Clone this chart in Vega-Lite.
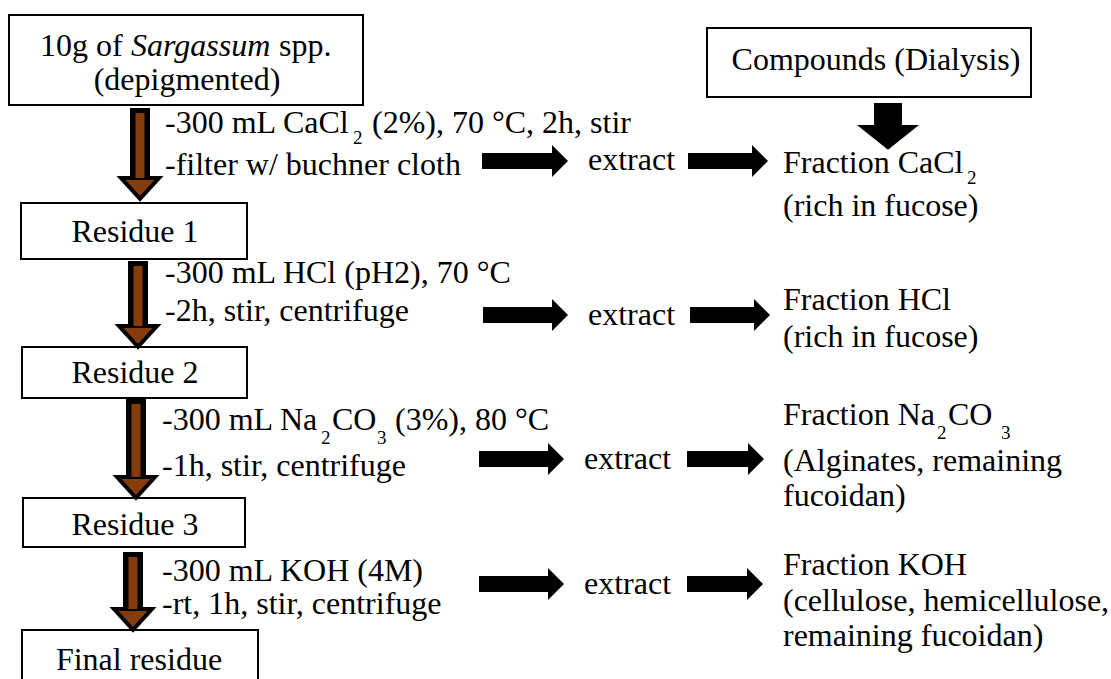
{
  "$schema": "https://vega.github.io/schema/vega-lite/v6.json",
  "width": 1111,
  "height": 679,
  "autosize": {"type": "fit", "contains": "padding"},
  "padding": 0,
  "background": "white",
  "config": {"view": {"stroke": null}},
  "datasets": {
    "boxes": [
      {"x": 9, "x2": 363, "y": 15, "y2": 105},
      {"x": 707, "x2": 1031, "y": 28, "y2": 97},
      {"x": 21, "x2": 247, "y": 203, "y2": 259},
      {"x": 22, "x2": 247, "y": 347, "y2": 398},
      {"x": 23, "x2": 245, "y": 498, "y2": 547},
      {"x": 22, "x2": 258, "y": 630, "y2": 700}
    ],
    "brown": [
      {"cx": 140, "top": 108, "ht": 178},
      {"cx": 138, "top": 261, "ht": 326},
      {"cx": 136, "top": 399, "ht": 477},
      {"cx": 133, "top": 552, "ht": 609}
    ],
    "harrows": [
      {"x1": 482, "xh": 552, "y": 161},
      {"x1": 688, "xh": 752, "y": 161},
      {"x1": 483, "xh": 552, "y": 315},
      {"x1": 690, "xh": 754, "y": 315},
      {"x1": 479, "xh": 548, "y": 459},
      {"x1": 687, "xh": 748, "y": 459},
      {"x1": 479, "xh": 548, "y": 584},
      {"x1": 687, "xh": 747, "y": 584}
    ],
    "varrow": [{"cx": 888, "top": 103, "ht": 125}],
    "textL": [
      {"x": 40, "y": 56, "t": "10g of"},
      {"x": 279, "y": 56, "t": "spp."},
      {"x": 165, "y": 133, "t": "-300 mL CaCl"},
      {"x": 372, "y": 133, "t": "(2%), 70 °C, 2h, stir"},
      {"x": 165, "y": 175, "t": "-filter w/ buchner cloth"},
      {"x": 165, "y": 283, "t": "-300 mL HCl (pH2), 70 °C"},
      {"x": 165, "y": 321, "t": "-2h, stir, centrifuge"},
      {"x": 162, "y": 430, "t": "-300 mL Na"},
      {"x": 332, "y": 430, "t": "CO"},
      {"x": 395, "y": 430, "t": "(3%), 80 °C"},
      {"x": 162, "y": 476, "t": "-1h, stir, centrifuge"},
      {"x": 162, "y": 581, "t": "-300 mL KOH (4M)"},
      {"x": 162, "y": 614, "t": "-rt, 1h, stir, centrifuge"},
      {"x": 588, "y": 170, "t": "extract"},
      {"x": 588, "y": 325, "t": "extract"},
      {"x": 584, "y": 469, "t": "extract"},
      {"x": 584, "y": 594, "t": "extract"},
      {"x": 783, "y": 173, "t": "Fraction CaCl"},
      {"x": 783, "y": 216, "t": "(rich in fucose)"},
      {"x": 783, "y": 310, "t": "Fraction HCl"},
      {"x": 783, "y": 347, "t": "(rich in fucose)"},
      {"x": 783, "y": 425, "t": "Fraction Na"},
      {"x": 948, "y": 425, "t": "CO"},
      {"x": 783, "y": 471, "t": "(Alginates, remaining"},
      {"x": 783, "y": 506, "t": "fucoidan)"},
      {"x": 783, "y": 575, "t": "Fraction KOH"},
      {"x": 783, "y": 611, "t": "(cellulose, hemicellulose,"},
      {"x": 783, "y": 646, "t": "remaining fucoidan)"}
    ],
    "textSub": [
      {"x": 353, "y": 144, "t": "2"},
      {"x": 321, "y": 444, "t": "2"},
      {"x": 377, "y": 444, "t": "3"},
      {"x": 967, "y": 184, "t": "2"},
      {"x": 937, "y": 439, "t": "2"},
      {"x": 1001, "y": 439, "t": "3"}
    ],
    "textI": [{"x": 131, "y": 56, "t": "Sargassum"}],
    "textC": [
      {"x": 187, "y": 90, "t": "(depigmented)"},
      {"x": 876, "y": 70, "t": "Compounds (Dialysis)"},
      {"x": 135, "y": 242, "t": "Residue 1"},
      {"x": 135, "y": 383, "t": "Residue 2"},
      {"x": 135, "y": 535, "t": "Residue 3"},
      {"x": 139, "y": 670, "t": "Final residue"}
    ]
  },
  "layer": [
    {
      "data": {"name": "boxes"},
      "mark": {"type": "rect", "fill": "white", "stroke": "black", "strokeWidth": 2, "clip": true},
      "encoding": {
        "x": {"field": "x", "type": "quantitative", "scale": {"domain": [0, 1111], "nice": false, "zero": false}, "axis": null},
        "x2": {"field": "x2"},
        "y": {"field": "y", "type": "quantitative", "scale": {"domain": [0, 679], "nice": false, "zero": false, "reverse": true}, "axis": null},
        "y2": {"field": "y2"}
      }
    },
    {
      "data": {"name": "brown"},
      "mark": {"type": "rule", "color": "black", "strokeWidth": 20},
      "encoding": {
        "x": {"field": "cx", "type": "quantitative"},
        "y": {"field": "top", "type": "quantitative"},
        "y2": {"field": "ht"}
      }
    },
    {
      "data": {"name": "brown"},
      "mark": {"type": "point", "shape": "M -1 0 L 1 0 L 0 1.1 Z", "size": 1444, "filled": true, "fill": "#843C0C", "stroke": "black", "strokeWidth": 4, "strokeJoin": "miter", "opacity": 1},
      "encoding": {
        "x": {"field": "cx", "type": "quantitative"},
        "y": {"field": "ht", "type": "quantitative"}
      }
    },
    {
      "data": {"name": "brown"},
      "mark": {"type": "rule", "color": "#843C0C", "strokeWidth": 9, "yOffset": 5},
      "encoding": {
        "x": {"field": "cx", "type": "quantitative"},
        "y": {"field": "top", "type": "quantitative"},
        "y2": {"field": "ht"}
      }
    },
    {
      "data": {"name": "harrows"},
      "mark": {"type": "rule", "color": "black", "strokeWidth": 16},
      "encoding": {
        "x": {"field": "x1", "type": "quantitative"},
        "x2": {"field": "xh"},
        "y": {"field": "y", "type": "quantitative"}
      }
    },
    {
      "data": {"name": "harrows"},
      "mark": {"type": "point", "shape": "M 0 -1 L 1 0 L 0 1 Z", "size": 1024, "filled": true, "color": "black", "opacity": 1},
      "encoding": {
        "x": {"field": "xh", "type": "quantitative"},
        "y": {"field": "y", "type": "quantitative"}
      }
    },
    {
      "data": {"name": "varrow"},
      "mark": {"type": "rule", "color": "black", "strokeWidth": 28},
      "encoding": {
        "x": {"field": "cx", "type": "quantitative"},
        "y": {"field": "top", "type": "quantitative"},
        "y2": {"field": "ht"}
      }
    },
    {
      "data": {"name": "varrow"},
      "mark": {"type": "point", "shape": "M -1 0 L 1 0 L 0 0.8 Z", "size": 3844, "filled": true, "color": "black", "opacity": 1},
      "encoding": {
        "x": {"field": "cx", "type": "quantitative"},
        "y": {"field": "ht", "type": "quantitative"}
      }
    },
    {
      "data": {"name": "textL"},
      "mark": {"type": "text", "font": "Liberation Serif", "fontSize": 32, "align": "left", "baseline": "alphabetic", "color": "black"},
      "encoding": {
        "x": {"field": "x", "type": "quantitative"},
        "y": {"field": "y", "type": "quantitative"},
        "text": {"field": "t"}
      }
    },
    {
      "data": {"name": "textSub"},
      "mark": {"type": "text", "font": "Liberation Serif", "fontSize": 19, "align": "left", "baseline": "alphabetic", "color": "black"},
      "encoding": {
        "x": {"field": "x", "type": "quantitative"},
        "y": {"field": "y", "type": "quantitative"},
        "text": {"field": "t"}
      }
    },
    {
      "data": {"name": "textI"},
      "mark": {"type": "text", "font": "Liberation Serif", "fontSize": 32, "fontStyle": "italic", "align": "left", "baseline": "alphabetic", "color": "black"},
      "encoding": {
        "x": {"field": "x", "type": "quantitative"},
        "y": {"field": "y", "type": "quantitative"},
        "text": {"field": "t"}
      }
    },
    {
      "data": {"name": "textC"},
      "mark": {"type": "text", "font": "Liberation Serif", "fontSize": 32, "align": "center", "baseline": "alphabetic", "color": "black"},
      "encoding": {
        "x": {"field": "x", "type": "quantitative"},
        "y": {"field": "y", "type": "quantitative"},
        "text": {"field": "t"}
      }
    }
  ]
}
